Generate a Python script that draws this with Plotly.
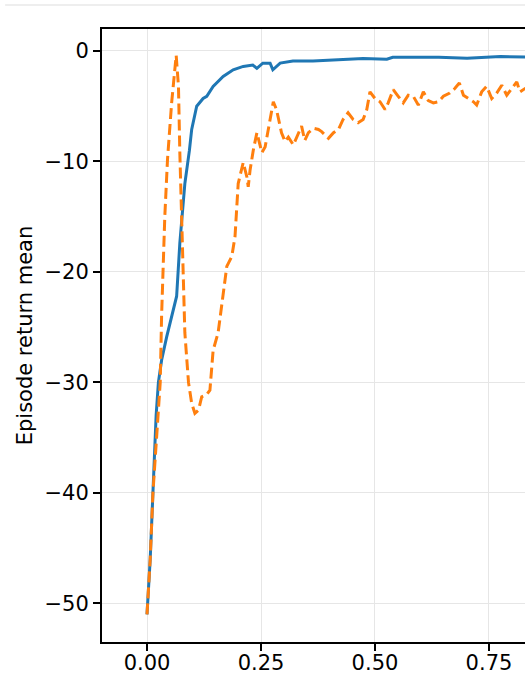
import plotly.graph_objects as go

# Blue (solid) series
blue_x = [0.000, 0.007, 0.013, 0.020, 0.025, 0.032, 0.043, 0.054, 0.065, 0.072, 0.083, 0.093,
          0.098, 0.109, 0.123, 0.131, 0.145, 0.167, 0.189, 0.211, 0.232, 0.241, 0.254,
          0.270, 0.276, 0.292, 0.320, 0.364, 0.421, 0.474, 0.526, 0.539, 0.640, 0.702,
          0.775, 0.829, 0.845]
blue_y = [-51.0, -46.0, -40.0, -33.0, -30.0, -28.0, -25.9, -24.0, -22.2, -17.4, -12.0, -9.0,
          -7.1, -5.0, -4.3, -4.1, -3.2, -2.3, -1.7, -1.4, -1.27, -1.57, -1.1,
          -1.1, -1.7, -1.1, -0.9, -0.9, -0.75, -0.67, -0.75, -0.57, -0.57, -0.66,
          -0.5, -0.57, -0.55]

# Orange (dashed) series
orange_x = [0.000, 0.007, 0.013, 0.022, 0.029, 0.032, 0.039, 0.045, 0.054, 0.064, 0.069, 0.072,
            0.074, 0.076, 0.080, 0.083, 0.091, 0.098, 0.105, 0.113, 0.120, 0.131, 0.138, 0.145,
            0.156, 0.167, 0.175, 0.186, 0.193, 0.200, 0.211, 0.219, 0.222, 0.226, 0.233, 0.241,
            0.252, 0.259, 0.266, 0.277, 0.284, 0.295, 0.303, 0.310, 0.321, 0.332, 0.339, 0.346,
            0.354, 0.365, 0.376, 0.383, 0.398, 0.409, 0.420, 0.430, 0.441, 0.452, 0.463, 0.474,
            0.482, 0.489, 0.500, 0.511, 0.522, 0.529, 0.540, 0.551, 0.562, 0.573, 0.584, 0.595,
            0.606, 0.617, 0.628, 0.639, 0.650, 0.664, 0.675, 0.685, 0.694, 0.705, 0.716, 0.723,
            0.734, 0.745, 0.756, 0.767, 0.778, 0.789, 0.800, 0.811, 0.818, 0.829, 0.840]
orange_y = [-51.0, -46.0, -40.0, -34.0, -30.0, -24.0, -15.0, -9.8, -4.7, -0.4, -3.2, -9.2,
            -12.0, -16.5, -21.0, -25.5, -30.0, -31.9, -32.8, -32.5, -31.3, -31.1, -30.7, -27.1,
            -25.5, -21.9, -19.5, -18.6, -16.8, -12.0, -10.1, -11.4, -12.3, -10.8, -9.0, -7.4,
            -9.2, -8.7, -7.1, -4.6, -5.3, -7.4, -8.2, -7.8, -8.5, -7.4, -6.8, -8.1,
            -7.4, -7.0, -7.1, -7.3, -7.9, -7.4, -7.1, -6.2, -5.6, -6.2, -6.5, -6.2,
            -5.3, -3.7, -4.3, -4.6, -5.3, -4.7, -3.5, -4.1, -4.7, -4.0, -4.1, -4.9,
            -3.7, -4.5, -4.7, -4.6, -4.1, -3.8, -3.4, -2.9, -4.0, -4.3, -4.6, -4.9,
            -3.7, -3.2, -4.3, -3.8, -3.1, -4.0, -3.4, -2.8, -3.7, -3.4, -3.3]

x_ticks = [0.0, 0.25, 0.5, 0.75]
x_labels = ["0.00", "0.25", "0.50", "0.75"]
y_ticks = [0, -10, -20, -30, -40, -50]
y_labels = ["0", "\u221210", "\u221220", "\u221230", "\u221240", "\u221250"]

fig = go.Figure()
fig.add_trace(go.Scatter(x=blue_x, y=blue_y, mode="lines",
                         line=dict(color="#1f77b4", width=3), showlegend=False))
fig.add_trace(go.Scatter(x=orange_x, y=orange_y, mode="lines",
                         line=dict(color="#ff7f0e", width=3, dash="11px,5px"), showlegend=False))

font = dict(family="DejaVu Sans", size=21, color="#000000")
fig.update_layout(
    width=525, height=677,
    margin=dict(l=102, r=0, t=29, b=35, autoexpand=False),
    paper_bgcolor="white", plot_bgcolor="white",
    font=font,
    xaxis=dict(range=[-0.0987, 0.829], tickvals=x_ticks, ticktext=x_labels,
               showline=True, linecolor="black", linewidth=2, mirror=True,
               ticks="outside", ticklen=7, tickwidth=1.6, tickcolor="black",
               showgrid=True, gridcolor="#e6e6e6", gridwidth=1.2, zeroline=False,
               tickfont=font, automargin=False, ticklabelstandoff=-6),
    yaxis=dict(range=[-53.5, 1.99], tickvals=y_ticks, ticktext=y_labels,
               showline=True, linecolor="black", linewidth=2, mirror=False,
               ticks="outside", ticklen=7, tickwidth=1.6, tickcolor="black",
               showgrid=True, gridcolor="#e6e6e6", gridwidth=1.2, zeroline=False,
               tickfont=font, automargin=False,
               title=dict(text="Episode return mean", font=font, standoff=6)),
    shapes=[dict(type="line", xref="paper", yref="paper",
                 x0=-0.229, x1=1.0, y0=1.039, y1=1.039,
                 line=dict(color="#eeeeee", width=2))],
)

fig.write_html("out.html")
